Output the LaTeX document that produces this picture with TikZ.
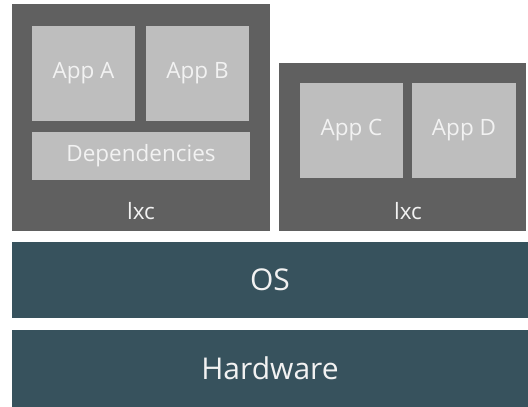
\documentclass[tikz,border=0pt]{standalone}
\usepackage{fontspec}
\setmainfont{Open Sans}
\usetikzlibrary{positioning}

\definecolor{boxgray}{HTML}{606060}
\definecolor{appgray}{HTML}{BEBEBE}
\definecolor{layerteal}{HTML}{37525D}

\begin{document}
\begin{tikzpicture}[x=1pt,y=-1pt,
    C/.style={fill=boxgray, rectangle, inner sep=0pt},
    A/.style={fill=appgray, rectangle, inner sep=0pt, text=white!95!black, font=\fontsize{22.5}{24}\selectfont},
    L/.style={fill=layerteal, rectangle, inner sep=0pt, text=white!95!black, minimum width=516pt, font=\fontsize{30}{32}\selectfont}]
    \useasboundingbox[fill=white] (0,0) rectangle (528,407);

    % left container
    \node[C, minimum width=258pt, minimum height=227pt] (lxc0) at (141,117.5) {};
    \node[A, minimum width=103pt, minimum height=95pt] (appa) at (83.5,73) {App A};
    \node[A, minimum width=103pt, minimum height=95pt] (appb) at (197.5,73) {App B};
    \node[A, minimum width=218pt, minimum height=48pt] (deps) at (141,156) {Dependencies};
    \node[text=white!95!black, font=\fontsize{22.5}{24}\selectfont] (lbl0) at (141,211) {lxc};

    % right container
    \node[C, minimum width=247pt, minimum height=168pt] (lxc1) at (402.5,147) {};
    \node[A, minimum width=103pt, minimum height=95pt] (appc) at (351.5,130.5) {App C};
    \node[A, minimum width=104pt, minimum height=95pt] (appd) at (464,130.5) {App D};
    \node[text=white!95!black, font=\fontsize{22.5}{24}\selectfont] (lbl1) at (408,211) {lxc};

    \node[L, minimum height=76pt] (os) at (270,280) {OS};
    \node[L, minimum height=77pt] (hw) at (270,368.5) {Hardware};
\end{tikzpicture}
\end{document}
